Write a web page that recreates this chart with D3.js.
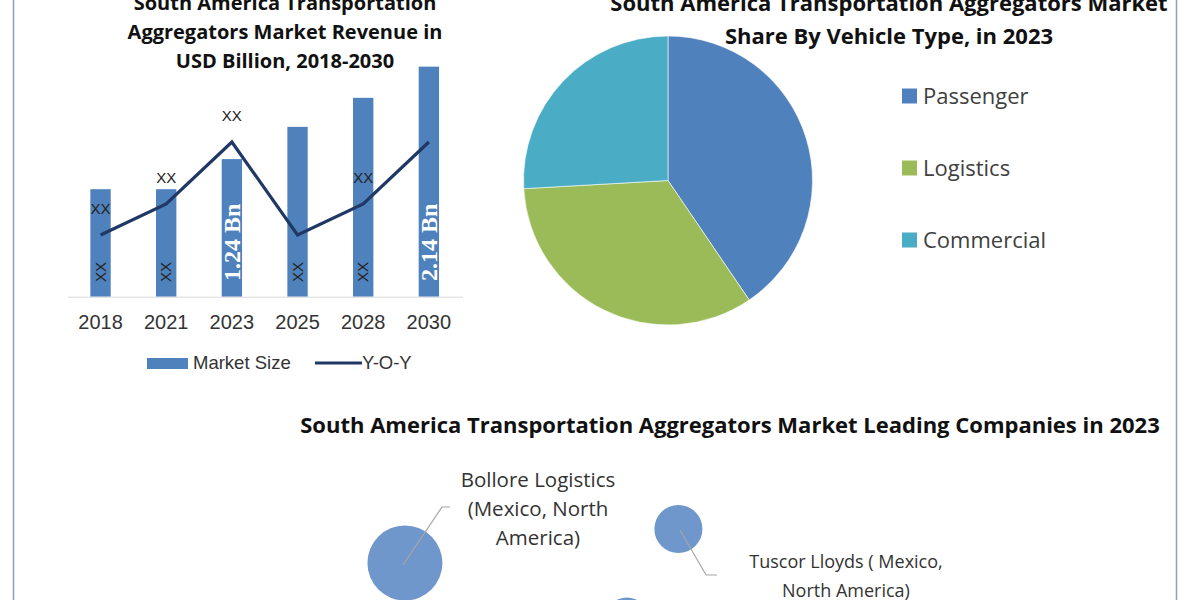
<!DOCTYPE html>
<meta charset="utf-8">
<style>
  body { margin: 0; background: #fff; }
  svg { display: block; }
  .title { font: bold 20px "Open Sans", sans-serif; fill: #111; text-anchor: middle; }
  .tick { font: 20px "Liberation Sans", Arial, sans-serif; fill: #333; text-anchor: middle; }
  .xx { font: 15px "Liberation Sans", Arial, sans-serif; fill: #222; }
  .bn { font: bold 24px "Liberation Serif", serif; fill: #fff; }
  .leg { font: 18.5px "Liberation Sans", Arial, sans-serif; fill: #333; }
  .pieleg { font: 22px "Open Sans", sans-serif; fill: #404040; }
  .blabel { font: 19px "Open Sans", sans-serif; fill: #333; text-anchor: middle; }
</style>
<body>
<svg width="1200" height="600"></svg>
<script src="https://d3js.org/d3.v7.min.js"></script>
<script>
// bar + line chart
const years = ["2018", "2021", "2023", "2025", "2028", "2030"];
const marketSize = [1.0, 1.0, 1.28, 1.58, 1.85, 2.14];
const barLabels = ["XX", "XX", "1.24 Bn", "XX", "XX", "2.14 Bn"];
const yoy = [5, 6, 8, 5, 6, 8];
const yoyLabels = ["XX", "XX", "XX", "", "XX", ""];

// pie
const vehicleTypes = ["Passenger", "Logistics", "Commercial"];
const vehicleShare = [40.5, 33.6, 25.9];
const pieColors = ["#4f81bd", "#9bbb59", "#4bacc6"];

// bubbles
const companies = ["Bollore Logistics\n(Mexico, North\nAmerica)", "Tuscor Lloyds ( Mexico,\nNorth America)", ""];
const compX = [1.22, 4.4, 3.8];
const compY = [3.85, 5.55, 1.0];
const compSize = [100, 41, 36];

const svg = d3.select("svg");

// frame lines left/right
svg.append("line").attr("x1", 13.5).attr("x2", 13.5).attr("y1", 0).attr("y2", 600)
  .attr("stroke", "#8ba2c0").attr("stroke-width", 1.5);
svg.append("line").attr("x1", 1176.5).attr("x2", 1176.5).attr("y1", 0).attr("y2", 600)
  .attr("stroke", "#8ba2c0").attr("stroke-width", 1.5);

// ---------- left chart ----------
const x = d3.scaleBand().domain(years).range([67.7, 461.7]).paddingInner(0.69).paddingOuter(0.345);
const y = d3.scaleLinear().domain([0, 2.5]).range([296.7, 296.7 - 268.75]);
const y2 = d3.scaleLinear().domain([0, 10]).range([390, 80]);

const titleL = ["South America Transportation", "Aggregators Market Revenue in", "USD Billion, 2018-2030"];
svg.append("g").selectAll("text").data(titleL).join("text")
  .attr("class", "title").attr("x", 285).attr("y", (d, i) => 10 + i * 29).text(d => d);

svg.append("g").selectAll("rect").data(years).join("rect")
  .attr("x", d => x(d)).attr("width", x.bandwidth())
  .attr("y", (d, i) => y(marketSize[i])).attr("height", (d, i) => y(0) - y(marketSize[i]))
  .attr("fill", "#4f81bd");

svg.append("line").attr("x1", 68).attr("x2", 463).attr("y1", y(0) + 0.5).attr("y2", y(0) + 0.5)
  .attr("stroke", "#d9d9d9");

const xAxis = svg.append("g").attr("transform", `translate(0,${y(0)})`)
  .call(d3.axisBottom(x).tickSize(0).tickPadding(18));
xAxis.select(".domain").remove();
xAxis.selectAll("text").attr("class", "tick").attr("font-size", null).attr("font-family", null).attr("fill", null);

// rotated bar labels
svg.append("g").selectAll("text").data(years).join("text")
  .attr("class", (d, i) => barLabels[i] === "XX" ? "xx" : "bn")
  .attr("transform", (d, i) => `translate(${x(d) + x.bandwidth() / 2},${barLabels[i] === "XX" ? 282 : 281}) rotate(-90)`)
  .attr("dy", "0.35em")
  .text((d, i) => barLabels[i]);

const line = d3.line().x((d, i) => x(years[i]) + x.bandwidth() / 2).y(d => y2(d));
svg.append("path").datum(yoy).attr("d", line)
  .attr("fill", "none").attr("stroke", "#1f3864").attr("stroke-width", 3.2);

svg.append("g").selectAll("text").data(yoy).join("text")
  .attr("class", "xx").attr("text-anchor", "middle")
  .attr("x", (d, i) => x(years[i]) + x.bandwidth() / 2)
  .attr("y", d => y2(d) - 26).attr("dy", "0.35em")
  .text((d, i) => yoyLabels[i]);

// legend
svg.append("rect").attr("x", 147).attr("y", 358).attr("width", 41).attr("height", 11).attr("fill", "#4f81bd");
svg.append("text").attr("class", "leg").attr("x", 193).attr("y", 363).attr("dy", "0.35em").text("Market Size");
svg.append("line").attr("x1", 315).attr("x2", 362).attr("y1", 363).attr("y2", 363)
  .attr("stroke", "#1f3864").attr("stroke-width", 3.2);
svg.append("text").attr("class", "leg").attr("x", 362).attr("y", 363).attr("dy", "0.35em").text("Y-O-Y");

// ---------- pie ----------
const titleP = ["South America Transportation Aggregators Market", "Share By Vehicle Type, in 2023"];
svg.append("g").selectAll("text").data(titleP).join("text")
  .attr("class", "title").style("font-size", "22px")
  .attr("x", 889).attr("y", (d, i) => 11 + i * 33).text(d => d);

const pie = d3.pie().sort(null)(vehicleShare);
const arc = d3.arc().innerRadius(0).outerRadius(144.5);
svg.append("g").attr("transform", "translate(668,180.5)")
  .selectAll("path").data(pie).join("path")
  .attr("d", arc).attr("fill", (d, i) => pieColors[i])
  .attr("stroke", "#fff").attr("stroke-width", 0.6);

const legY = d3.scalePoint().domain(vehicleTypes).range([96, 240]);
const pl = svg.append("g").selectAll("g").data(vehicleTypes).join("g")
  .attr("transform", d => `translate(902,${legY(d)})`);
pl.append("rect").attr("x", 0).attr("y", -7.5).attr("width", 15).attr("height", 15)
  .attr("fill", (d, i) => pieColors[i]);
pl.append("text").attr("class", "pieleg").attr("x", 21).attr("dy", "0.35em").text(d => d);

// ---------- bubbles ----------
svg.append("text").attr("class", "title").style("font-size", "22px")
  .attr("x", 730).attr("y", 433)
  .text("South America Transportation Aggregators Market Leading Companies in 2023");

const bx = d3.scaleLinear().domain([0, 10]).range([300, 1160]);
const by = d3.scaleLinear().domain([0, 10]).range([640, 440]);
const br = d3.scaleSqrt().domain([0, 100]).range([0, 37.5]);

const bubbles = companies.map((c, i) => ({ name: c, x: bx(compX[i]), y: by(compY[i]), r: br(compSize[i]) }));

svg.append("g").selectAll("circle").data(bubbles).join("circle")
  .attr("cx", d => d.x).attr("cy", d => d.y).attr("r", d => d.r)
  .attr("fill", "#6f97cc");

// leader lines + labels
const leaders = [
  { pts: [[403, 565], [442, 507], [450, 507]], lx: 538, ly: 480, fs: 20.5 },
  { pts: [[680, 530], [706, 575], [717, 575]], lx: 846, ly: 562, fs: 18 }
];
leaders.forEach((l, i) => {
  svg.append("path").attr("d", d3.line()(l.pts))
    .attr("fill", "none").attr("stroke", "#a6a6a6").attr("stroke-width", 1.2);
  const lines = companies[i].split("\n");
  svg.append("g").selectAll("text").data(lines).join("text")
    .attr("class", "blabel").style("font-size", l.fs + "px")
    .attr("x", l.lx).attr("y", (d, j) => l.ly + j * 29)
    .attr("dy", "0.35em").text(d => d);
});
</script>
</body>
